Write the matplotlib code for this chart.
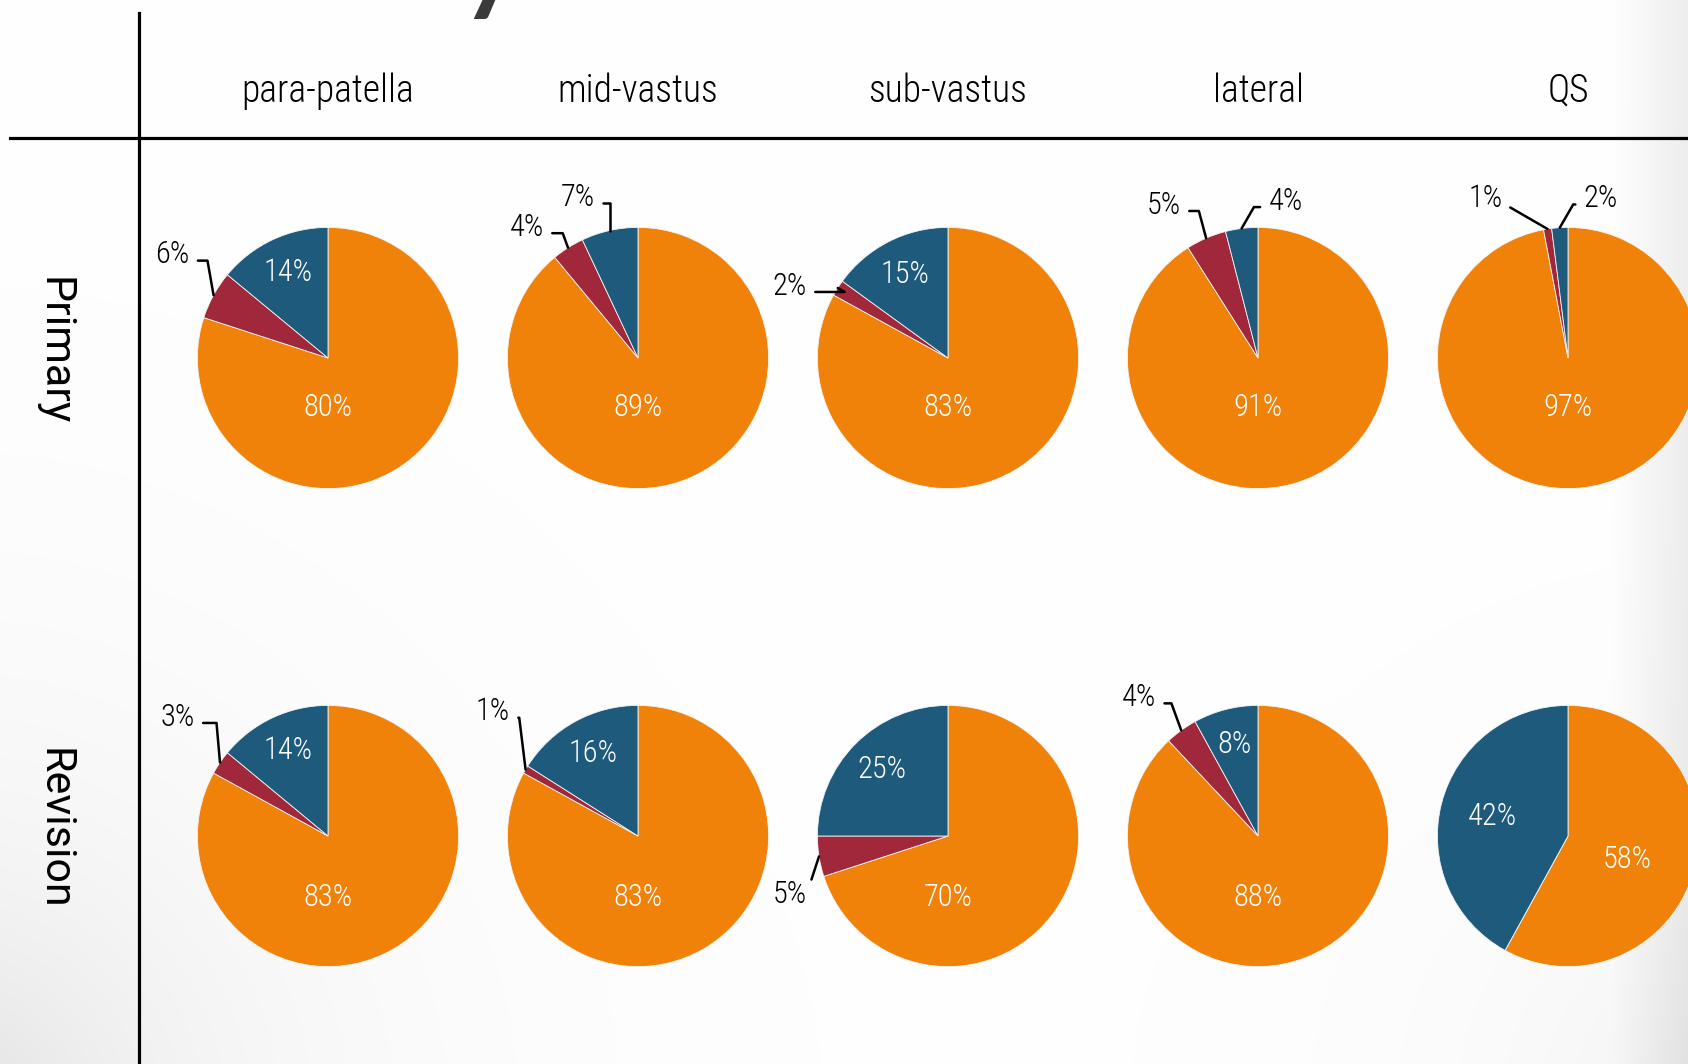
import numpy as np
import matplotlib.pyplot as plt
from matplotlib.lines import Line2D

# data: shares in % for each approach, slices = [orange, red, blue]
approaches = ['para-patella', 'mid-vastus', 'sub-vastus', 'lateral', 'QS']
groups = ['Primary', 'Revision']

primary_orange = [80, 89, 83, 91, 97]
primary_red = [6, 4, 2, 5, 1]
primary_blue = [14, 7, 15, 4, 2]

revision_orange = [83, 83, 70, 88, 58]
revision_red = [3, 1, 5, 4, 0]
revision_blue = [14, 16, 25, 8, 42]

colors = ['#F0820A', '#A0283A', '#1E5A7C']

# layout (pixels of the 1688x1064 canvas)
W, H = 1688, 1064
R = 130.6
col_x = [328, 638, 948, 1258, 1568]
row_y = [358, 836]
LIM = 1.6

# outside label placement (pie-radius units): (x, y, ha, angleB)
outside = {
    (0, 0, 1): (-1.06, 0.79, 'right', 100),
    (0, 1, 1): (-0.72, 1.00, 'right', 110),
    (0, 1, 2): (-0.33, 1.23, 'right', 90),
    (0, 2, 1): (-1.08, 0.55, 'right', 150),
    (0, 3, 1): (-0.59, 1.17, 'right', 105),
    (0, 3, 2): (0.08, 1.20, 'left', 60),
    (0, 4, 1): (-0.50, 1.22, 'right', -30),
    (0, 4, 2): (0.12, 1.22, 'left', 60),
    (1, 0, 1): (-1.02, 0.91, 'right', 95),
    (1, 1, 1): (-0.98, 0.95, 'right', 97),
    (1, 2, 1): (-1.08, -0.45, 'right', None),
    (1, 3, 1): (-0.78, 1.06, 'right', 110),
}

plt.rcParams['font.family'] = ['Roboto Condensed', 'PT Sans Narrow', 'DejaVu Sans']
plt.rcParams['font.weight'] = 'light'

fig = plt.figure(figsize=(W / 100, H / 100), dpi=100)

# soft grey vignette in the background
yy, xx = np.mgrid[0:H, 0:W]
shade = 0.13 * np.exp(-np.hypot(xx + 60, (H + 60) - yy) / 240.0)
shade += 0.07 * np.clip((xx - 1610) / 78.0, 0, 1)
shade += 0.06 * np.exp(-np.hypot(W + 40 - xx, H + 40 - yy) / 200.0)
bg = np.clip(1 - shade, 0, 1)
bg_ax = fig.add_axes([0, 0, 1, 1], zorder=-5)
bg_ax.imshow(np.dstack([bg, bg, bg]), aspect='auto', extent=[0, W, H, 0])
bg_ax.axis('off')

# table lines
fig.add_artist(Line2D([10 / W, 1], [1 - 138 / H] * 2, transform=fig.transFigure,
                      color='black', lw=2.3))
fig.add_artist(Line2D([139 / W] * 2, [0, 1 - 13 / H], transform=fig.transFigure,
                      color='black', lw=2.3))

# fragment of the slide title above the canvas
fig.text(490 / W, 1.0, 'y', fontsize=80, color='#3a3a3a', ha='center', va='baseline',
         family=['Lato', 'DejaVu Sans'], fontweight='bold')

for j, name in enumerate(approaches):
    fig.text(col_x[j] / W, 1 - 91 / H, name, ha='center', va='center', fontsize=27)
for i, name in enumerate(groups):
    fig.text(54 / W, 1 - (row_y[i] - 7) / H, name, ha='center', va='center',
             fontsize=31, rotation=-90, family=['Roboto', 'DejaVu Sans'],
             fontweight='normal')

data = [
    [primary_orange, primary_red, primary_blue],
    [revision_orange, revision_red, revision_blue],
]

S = 2 * LIM * R
for i in range(2):
    for j in range(len(approaches)):
        vals = [data[i][0][j], data[i][1][j], data[i][2][j]]
        ax = fig.add_axes([(col_x[j] - S / 2) / W, (H - row_y[i] - S / 2) / H, S / W, S / H])
        wedges, _ = ax.pie(vals, colors=colors, startangle=90, counterclock=False,
                           radius=1, wedgeprops=dict(linewidth=0.6, edgecolor='#f4f4f4'))
        ax.set_xlim(-LIM, LIM)
        ax.set_ylim(-LIM, LIM)
        ax.set_aspect('equal')
        ax.axis('off')
        for k, (w, v) in enumerate(zip(wedges, vals)):
            if v == 0:
                continue
            mid = np.deg2rad((w.theta1 + w.theta2) / 2)
            lab = f'{v}%'
            if (i, j, k) in outside:
                tx, ty, ha, angB = outside[(i, j, k)]
                ex, ey = np.cos(mid), np.sin(mid)
                if angB is None:
                    conn = 'arc3,rad=0'
                    rel = (1, 0.55)
                else:
                    conn = f'angle,angleA=0,angleB={angB},rad=0'
                    rel = (1, 0.3) if ha == 'right' else (0, 0.3)
                ax.annotate(lab, xy=(ex, ey), xytext=(tx, ty), ha=ha, va='center',
                            fontsize=22, color='black', annotation_clip=False,
                            arrowprops=dict(arrowstyle='-', color='black', lw=1.8,
                                            connectionstyle=conn, relpos=rel,
                                            shrinkA=4, shrinkB=0))
            else:
                if k == 0 and v >= 65:
                    px, py = 0, -0.38 if i == 0 else -0.47
                elif k == 0:
                    px, py = 0.47 * np.cos(mid), 0.47 * np.sin(mid) - 0.06
                else:
                    rr = 0.6 if v > 30 else 0.72
                    px, py = rr * np.cos(mid), rr * np.sin(mid)
                ax.text(px, py, lab, ha='center', va='center', fontsize=22, color='white')

fig.savefig('out.png', dpi=100)
